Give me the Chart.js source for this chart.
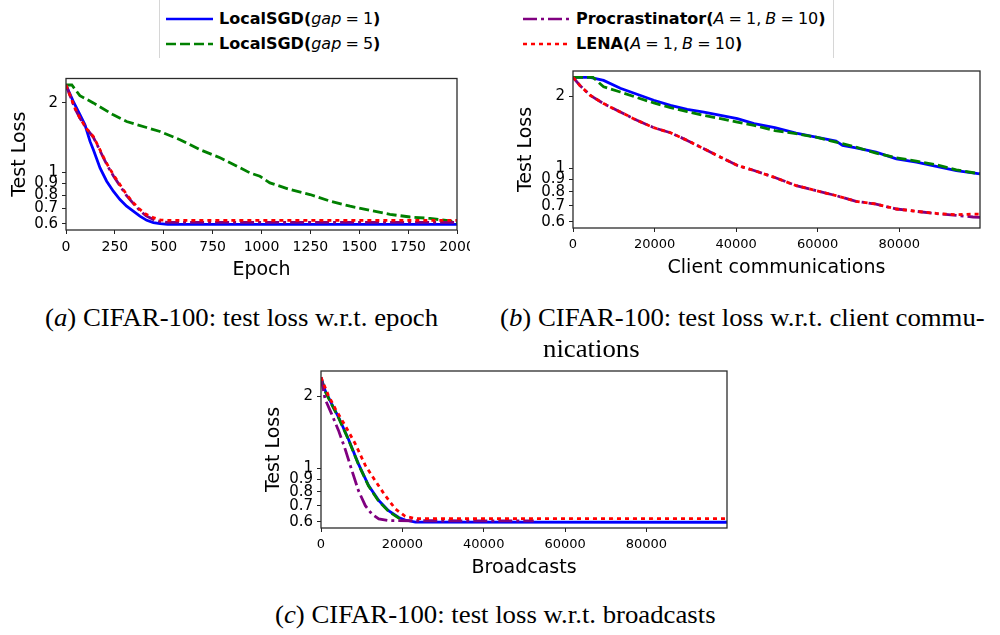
<!DOCTYPE html>
<html lang="en">
<head>
  <meta charset="UTF-8">
  <title>CIFAR-100 test loss</title>
  <style>
    html, body { margin: 0; padding: 0; background: #fff; }
    body {
      width: 1000px;
      height: 635px;
      position: relative;
      overflow: hidden;
      font-family: "DejaVu Sans", sans-serif;
    }
    .plot { position: absolute; }
    .legend-edge { position: absolute; top: 0; width: 1px; height: 58px; background: #d6d6d6; }
    .entry { position: absolute; font-size: 16px; font-weight: bold; white-space: nowrap; line-height: 20px; height: 20px; }
    .entry svg { position: absolute; left: 0; top: 4px; }
    .entry .t { position: absolute; top: 0; }
    .m { font-weight: normal; word-spacing: -1px; }
    .cap {
      position: absolute;
      font-family: "Liberation Serif", serif;
      font-size: 25px;
      line-height: 30px;
      white-space: nowrap;
      transform: scaleX(1.07);
      transform-origin: 0 0;
    }
  </style>
</head>
<body>
  <!-- legend -->
  <div class="legend-edge" style="left:159px"></div>
  <div class="legend-edge" style="left:833px"></div>

  <div class="entry" style="left:166px; top:9px">
    <svg width="47" height="12"><line x1="0" y1="6" x2="47" y2="6" stroke="#0000ff" stroke-width="2.5"/></svg>
    <span class="t" style="left:53px">LocalSGD(<span class="m"><i>gap</i> = 1</span>)</span>
  </div>
  <div class="entry" style="left:166px; top:34px">
    <svg width="47" height="12"><line x1="0" y1="6" x2="47" y2="6" stroke="#008000" stroke-width="2.5" stroke-dasharray="10 4"/></svg>
    <span class="t" style="left:53px">LocalSGD(<span class="m"><i>gap</i> = 5</span>)</span>
  </div>
  <div class="entry" style="left:523px; top:9px">
    <svg width="47" height="12"><line x1="0" y1="6" x2="47" y2="6" stroke="#800080" stroke-width="2.5" stroke-dasharray="14 4 3 4"/></svg>
    <span class="t" style="left:53px">Procrastinator(<span class="m"><i>A</i> = 1, <i>B</i> = 10</span>)</span>
  </div>
  <div class="entry" style="left:523px; top:34px">
    <svg width="47" height="12"><line x1="0" y1="6" x2="47" y2="6" stroke="#ff0000" stroke-width="2.5" stroke-dasharray="4 4"/></svg>
    <span class="t" style="left:53px">LENA(<span class="m"><i>A</i> = 1, <i>B</i> = 10</span>)</span>
  </div>

  <div class="plot" style="left:0px; top:70px"><canvas id="chartA" width="470" height="215"></canvas></div>
  <div class="plot" style="left:500px; top:62px"><canvas id="chartB" width="500" height="221"></canvas></div>
  <div class="plot" style="left:250px; top:362px"><canvas id="chartC" width="490" height="221"></canvas></div>

  <div class="cap" style="left:45px; top:303px">(<i>a</i>) CIFAR-100: test loss w.r.t. epoch</div>
  <div class="cap" style="left:500px; top:303px; width:453px; text-align:justify; text-align-last:justify; white-space:normal">(<i>b</i>) CIFAR-100: test loss w.r.t. client commu-</div>
  <div class="cap" style="left:543px; top:334px">nications</div>
  <div class="cap" style="left:275px; top:600px">(<i>c</i>) CIFAR-100: test loss w.r.t. broadcasts</div>

  <script src="https://cdn.jsdelivr.net/npm/chart.js"></script>
  <script>
    // y ticks shared by all three panels (log axis)
    const yTicks = [0.6, 0.7, 0.8, 0.9, 1, 2];
    const epochTicks = [0, 250, 500, 750, 1000, 1250, 1500, 1750, 2000];
    const countTicks = [0, 20000, 40000, 60000, 80000];

    // (a) test loss vs epoch
    const aBlueX = [0, 37, 72, 97, 123, 140, 174, 208, 242, 276, 310, 344, 378, 413, 447, 481, 520, 2000];
    const aBlueY = [2.39, 2.03, 1.776, 1.609, 1.364, 1.256, 1.048, 0.918, 0.831, 0.765, 0.716, 0.682, 0.649, 0.622, 0.608, 0.602, 0.598, 0.598];
    const aGreenX = [0, 30, 71, 140, 242, 310, 412, 481, 583, 685, 788, 890, 941, 992, 1043, 1146, 1248, 1350, 1453, 1555, 1657, 1760, 1862, 1964, 2000];
    const aGreenY = [2.39, 2.39, 2.15, 2.0, 1.776, 1.662, 1.566, 1.505, 1.387, 1.256, 1.16, 1.05, 0.997, 0.964, 0.903, 0.845, 0.804, 0.753, 0.716, 0.687, 0.66, 0.643, 0.634, 0.618, 0.61];
    const aPurpleX = [0, 46, 71, 105, 140, 165, 191, 215, 242, 275, 310, 345, 378, 410, 446, 481, 520, 2000];
    const aPurpleY = [2.39, 1.89, 1.72, 1.55, 1.42, 1.29, 1.16, 1.06, 0.97, 0.88, 0.795, 0.735, 0.685, 0.65, 0.628, 0.615, 0.61, 0.61];
    const aRedX = [0, 46, 71, 105, 140, 165, 191, 215, 242, 275, 310, 345, 378, 410, 446, 481, 520, 2000];
    const aRedY = [2.39, 1.9, 1.72, 1.55, 1.43, 1.30, 1.17, 1.07, 0.98, 0.89, 0.804, 0.74, 0.693, 0.66, 0.639, 0.625, 0.622, 0.622];

    // (b) test loss vs client communications
    const bBlueX = [0, 4200, 7500, 11600, 15700, 19800, 23900, 28000, 32100, 36200, 40300, 44400, 49500, 54700, 59600, 64500, 66100, 69400, 74300, 79300, 84200, 89100, 94000, 99800];
    const bBlueY = [2.40, 2.40, 2.33, 2.16, 2.04, 1.925, 1.835, 1.765, 1.72, 1.666, 1.614, 1.538, 1.48, 1.405, 1.352, 1.30, 1.248, 1.22, 1.17, 1.098, 1.063, 1.02, 0.981, 0.95];
    const bGreenX = [0, 4900, 7500, 11600, 15700, 19800, 23900, 28000, 32100, 36200, 40300, 44400, 49500, 54700, 59600, 64500, 69400, 74300, 79300, 84200, 89100, 94000, 99800];
    const bGreenY = [2.40, 2.40, 2.19, 2.085, 1.976, 1.877, 1.794, 1.727, 1.666, 1.614, 1.56, 1.513, 1.44, 1.397, 1.352, 1.288, 1.228, 1.159, 1.109, 1.073, 1.036, 0.988, 0.95];
    const bPurpleX = [0, 1700, 4200, 7500, 11600, 15700, 19800, 23900, 28000, 32100, 36200, 40300, 44400, 49500, 54700, 59600, 64500, 69400, 74300, 79300, 84200, 89100, 94000, 98100, 99800];
    const bPurpleY = [2.40, 2.22, 2.02, 1.865, 1.72, 1.588, 1.48, 1.41, 1.31, 1.209, 1.115, 1.03, 0.981, 0.917, 0.849, 0.809, 0.771, 0.73, 0.711, 0.678, 0.663, 0.648, 0.638, 0.628, 0.626];
    const bRedX = [0, 1700, 4200, 7500, 11600, 15700, 19800, 23900, 28000, 32100, 36200, 40300, 44400, 49500, 54700, 59600, 64500, 69400, 74300, 79300, 84200, 89100, 94000, 98100, 99800];
    const bRedY = [2.40, 2.22, 2.02, 1.865, 1.72, 1.588, 1.48, 1.41, 1.31, 1.209, 1.115, 1.03, 0.981, 0.917, 0.849, 0.809, 0.771, 0.73, 0.711, 0.678, 0.663, 0.65, 0.642, 0.646, 0.645];

    // (c) test loss vs broadcasts
    const cBlueX = [0, 1000, 2600, 4300, 6700, 9200, 11700, 14200, 16600, 19100, 20700, 23200, 99800];
    const cBlueY = [2.40, 2.12, 1.865, 1.64, 1.331, 1.046, 0.849, 0.735, 0.667, 0.625, 0.61, 0.598, 0.597];
    const cGreenX = [0, 1000, 2600, 4300, 6700, 9200, 11700, 14200, 16600, 19100, 20000];
    const cGreenY = [2.38, 2.10, 1.85, 1.63, 1.325, 1.04, 0.845, 0.73, 0.663, 0.622, 0.612];
    const cPurpleX = [0, 1000, 2600, 4300, 5900, 7600, 9200, 10900, 12500, 14200, 16600, 52300];
    const cPurpleY = [2.40, 1.95, 1.69, 1.442, 1.21, 0.98, 0.809, 0.70, 0.646, 0.616, 0.606, 0.605];
    const cRedX = [0, 1800, 3500, 5900, 8400, 10900, 13300, 15800, 18300, 20700, 23200, 99800];
    const cRedY = [2.40, 2.02, 1.777, 1.513, 1.27, 1.03, 0.891, 0.771, 0.678, 0.632, 0.618, 0.618];

    const styles = {
      blue:   { color: '#0000ff', dash: [], order: 4 },
      green:  { color: '#008000', dash: [10, 4], order: 3 },
      purple: { color: '#800080', dash: [14, 4, 3, 4], order: 2 },
      red:    { color: '#ff0000', dash: [4, 4], order: 1 }
    };

    function series(name, xs, ys) {
      const s = styles[name];
      return {
        data: xs.map((x, i) => ({ x: x, y: ys[i] })),
        borderColor: s.color,
        borderDash: s.dash,
        borderWidth: 2.8,
        pointRadius: 0,
        fill: false,
        tension: 0,
        order: s.order
      };
    }

    // matplotlib-like box around the axes
    const framePlugin = {
      id: 'frame',
      afterDatasetsDraw(chart) {
        const { ctx, chartArea: a } = chart;
        ctx.save();
        ctx.strokeStyle = '#2b2b2b';
        ctx.lineWidth = 1.3;
        ctx.strokeRect(a.left, a.top, a.right - a.left, a.bottom - a.top);
        ctx.restore();
      }
    };

    function makeChart(id, o) {
      new Chart(document.getElementById(id), {
        type: 'line',
        data: { datasets: o.datasets },
        options: {
          responsive: false,
          animation: false,
          devicePixelRatio: 1,
          layout: { padding: o.padding },
          plugins: { legend: { display: false }, tooltip: { enabled: false } },
          scales: {
            x: {
              type: 'linear',
              min: 0,
              max: o.xMax,
              grid: { drawOnChartArea: false, drawTicks: true, tickLength: 4, color: '#222' },
              border: { display: false },
              afterBuildTicks: axis => { axis.ticks = o.xTicks.map(v => ({ value: v })); },
              afterFit: axis => { axis.height = 55; axis.paddingLeft = 0; axis.paddingRight = 0; },
              ticks: {
                autoSkip: false,
                maxRotation: 0,
                padding: 5,
                color: '#000',
                font: { family: 'DejaVu Sans', size: o.xFont },
                callback: v => String(v)
              },
              title: {
                display: true,
                text: o.xTitle,
                color: '#000',
                padding: { top: 4, bottom: 4 },
                font: { family: 'DejaVu Sans', size: 19 }
              }
            },
            y: {
              type: 'logarithmic',
              min: 0.565,
              max: 2.55,
              grid: { drawOnChartArea: false, drawTicks: true, tickLength: 4, color: '#222' },
              border: { display: false },
              afterBuildTicks: axis => { axis.ticks = yTicks.map(v => ({ value: v })); },
              afterFit: axis => { axis.width = o.yWidth; axis.paddingTop = 0; axis.paddingBottom = 0; },
              ticks: {
                autoSkip: false,
                padding: 4,
                color: '#000',
                font: { family: 'DejaVu Sans', size: 15 },
                callback: v => String(v)
              },
              title: {
                display: true,
                text: 'Test Loss',
                color: '#000',
                padding: { top: 4, bottom: 4 },
                font: { family: 'DejaVu Sans', size: 19 }
              }
            }
          }
        },
        plugins: [framePlugin]
      });
    }

    makeChart('chartA', {
      datasets: [
        series('blue', aBlueX, aBlueY),
        series('green', aGreenX, aGreenY),
        series('purple', aPurpleX, aPurpleY),
        series('red', aRedX, aRedY)
      ],
      xMax: 2000, xTicks: epochTicks, xTitle: 'Epoch', xFont: 14,
      yWidth: 61, padding: { left: 5, top: 8.5, right: 13, bottom: 0 }
    });

    makeChart('chartB', {
      datasets: [
        series('blue', bBlueX, bBlueY),
        series('green', bGreenX, bGreenY),
        series('purple', bPurpleX, bPurpleY),
        series('red', bRedX, bRedY)
      ],
      xMax: 99800, xTicks: countTicks, xTitle: 'Client communications', xFont: 13,
      yWidth: 62.4, padding: { left: 10.6, top: 9, right: 20, bottom: 0 }
    });

    makeChart('chartC', {
      datasets: [
        series('blue', cBlueX, cBlueY),
        series('green', cGreenX, cGreenY),
        series('purple', cPurpleX, cPurpleY),
        series('red', cRedX, cRedY)
      ],
      xMax: 99800, xTicks: countTicks, xTitle: 'Broadcasts', xFont: 13,
      yWidth: 62.4, padding: { left: 8.6, top: 9, right: 13, bottom: 0 }
    });
  </script>
</body>
</html>
